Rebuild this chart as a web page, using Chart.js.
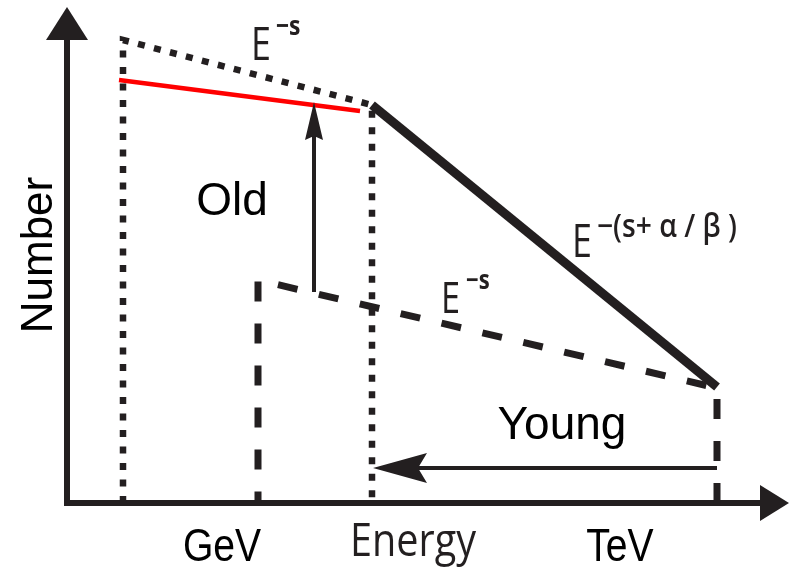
<!DOCTYPE html>
<html>
<head>
<meta charset="utf-8">
<script src="https://cdn.jsdelivr.net/npm/chart.js@4"></script>
<style>
  html, body { margin: 0; padding: 0; background: #fff; }
</style>
</head>
<body>
<canvas id="chartSpectrum" width="790" height="569"></canvas>
<script>
// ============================================================
// Schematic spectrum: old vs young population
// coordinates (x to the right, y downwards)
// ============================================================

// axes
var axisX = [67, 67, 760];
var axisY = [38, 503, 503];

// old population envelope (dotted)
var oldX = [123, 123, 372, 372];
var oldY = [503, 40, 105, 503];

// red fit line
var redX = [119, 360];
var redY = [80, 111];

// steep cooled part E^-(s+a/b)
var steepX = [372, 717];
var steepY = [105, 387];

// young population envelope (dashed), drawn from the TeV end
var youngX = [717, 717, 258, 258];
var youngY = [503, 388, 280, 503];

// arrows
var upArrowX = [314, 314];
var upArrowY = [292, 136];
var leftArrowX = [717, 418];
var leftArrowY = [468, 468];

// text
var axisTitleY = 'Number';
var tickLabels = ['GeV', 'Energy', 'TeV'];
var popLabels = ['Old', 'Young'];

var INK = '#231f20';

function puntos(xs, ys) {
  var out = [];
  for (var i = 0; i < xs.length; i++) out.push({ x: xs[i], y: ys[i] });
  return out;
}

function linea(xs, ys, color, width, dash, head) {
  return {
    data: puntos(xs, ys),
    showLine: true,
    borderColor: color,
    backgroundColor: color,
    borderWidth: width,
    borderDash: dash || [],
    borderCapStyle: 'butt',
    borderJoinStyle: 'miter',
    pointRadius: 0,
    pointHoverRadius: 0,
    fill: false,
    tension: 0,
    head: head || null
  };
}

// arrow heads at the last point of a dataset
var arrowHeads = {
  id: 'arrowHeads',
  afterDatasetsDraw: function(chart) {
    var ctx = chart.ctx;
    chart.data.datasets.forEach(function(ds, i) {
      if (!ds.head) return;
      var pts = chart.getDatasetMeta(i).data;
      var a = pts[pts.length - 2], b = pts[pts.length - 1];
      var dx = b.x - a.x, dy = b.y - a.y;
      var d = Math.sqrt(dx * dx + dy * dy);
      var ux = dx / d, uy = dy / d;
      var h = ds.head;
      var tipX = b.x + ux * h.len, tipY = b.y + uy * h.len;
      ctx.save();
      ctx.fillStyle = ds.borderColor;
      ctx.beginPath();
      ctx.moveTo(tipX, tipY);
      ctx.lineTo(b.x - uy * h.half - ux * h.notch, b.y + ux * h.half - uy * h.notch);
      ctx.lineTo(b.x, b.y);
      ctx.lineTo(b.x + uy * h.half - ux * h.notch, b.y - ux * h.half - uy * h.notch);
      ctx.closePath();
      ctx.fill();
      ctx.restore();
    });
  }
};

// y axis arrow head (axis dataset starts at the top)
var yHead = {
  id: 'yHead',
  afterDatasetsDraw: function(chart) {
    var ctx = chart.ctx;
    var x = chart.scales.x.getPixelForValue(axisX[0]);
    var y = chart.scales.y.getPixelForValue(axisY[0]);
    ctx.save();
    ctx.fillStyle = INK;
    ctx.beginPath();
    ctx.moveTo(x, y - 31);
    ctx.lineTo(x - 21, y + 2);
    ctx.lineTo(x + 21, y + 2);
    ctx.closePath();
    ctx.fill();
    ctx.restore();
  }
};

function texto(ctx, txt, x, y, font, color, sx, align) {
  ctx.save();
  ctx.translate(x, y);
  ctx.scale(sx, 1);
  ctx.font = font;
  ctx.fillStyle = color;
  ctx.textAlign = align || 'left';
  ctx.textBaseline = 'alphabetic';
  ctx.fillText(txt, 0, 0);
  ctx.restore();
}

function potencia(ctx, x, y, sup, size, supFont, dx, dy, supSx) {
  texto(ctx, 'E', x, y, size + 'px "Open Sans"', INK, 0.78);
  texto(ctx, sup, x + dx, y - dy, supFont, INK, supSx);
}

var labels = {
  id: 'labels',
  afterDraw: function(chart) {
    var ctx = chart.ctx;
    var arial = '"Liberation Sans", Arial, sans-serif';

    // y axis title
    ctx.save();
    ctx.translate(52, 255);
    ctx.rotate(-Math.PI / 2);
    ctx.font = '44px ' + arial;
    ctx.fillStyle = '#000';
    ctx.textAlign = 'center';
    ctx.fillText(axisTitleY, 0, 0);
    ctx.restore();

    texto(ctx, tickLabels[0], 222, 561, '46px ' + arial, '#000', 0.85, 'center');
    texto(ctx, tickLabels[1], 413, 556, '46px "Open Sans"', INK, 0.86, 'center');
    texto(ctx, tickLabels[2], 620, 561, '46px ' + arial, '#000', 0.85, 'center');

    texto(ctx, popLabels[0], 232, 215, '46px ' + arial, '#000', 1, 'center');
    texto(ctx, popLabels[1], 562, 439, '46px ' + arial, '#000', 1, 'center');

    potencia(ctx, 251, 60, '\u2212s', 46, 'bold 27px "Open Sans"', 25, 25, 0.85);
    potencia(ctx, 441, 313, '\u2212s', 44, 'bold 26px "Open Sans"', 25, 24, 0.85);
    potencia(ctx, 572, 257, '\u2212(s+ \u03b1 / \u03b2 )', 46, '600 32px "Open Sans"', 25, 20, 0.88);
  }
};

var chartSpectrum = new Chart(document.getElementById('chartSpectrum'), {
  type: 'scatter',
  data: {
    datasets: [
      linea(oldX, oldY, INK, 6.5, [7, 9.5]),
      linea(youngX, youngY, INK, 7, [20, 22]),
      linea(steepX, steepY, INK, 9),
      linea(redX, redY, '#ff0000', 4.5),
      linea(upArrowX, upArrowY, INK, 4, null, { len: 34, half: 9, notch: 4 }),
      linea(leftArrowX, leftArrowY, INK, 4, null, { len: 45, half: 15, notch: 9 }),
      linea(axisX, axisY, INK, 6, null, { len: 29, half: 18, notch: 0 })
    ]
  },
  plugins: [arrowHeads, yHead, labels],
  options: {
    responsive: false,
    animation: false,
    events: [],
    layout: { padding: 0 },
    plugins: {
      legend: { display: false },
      tooltip: { enabled: false }
    },
    scales: {
      x: { type: 'linear', min: 0, max: 790, display: false },
      y: { type: 'linear', min: 0, max: 569, reverse: true, display: false }
    }
  }
});
</script>
</body>
</html>
